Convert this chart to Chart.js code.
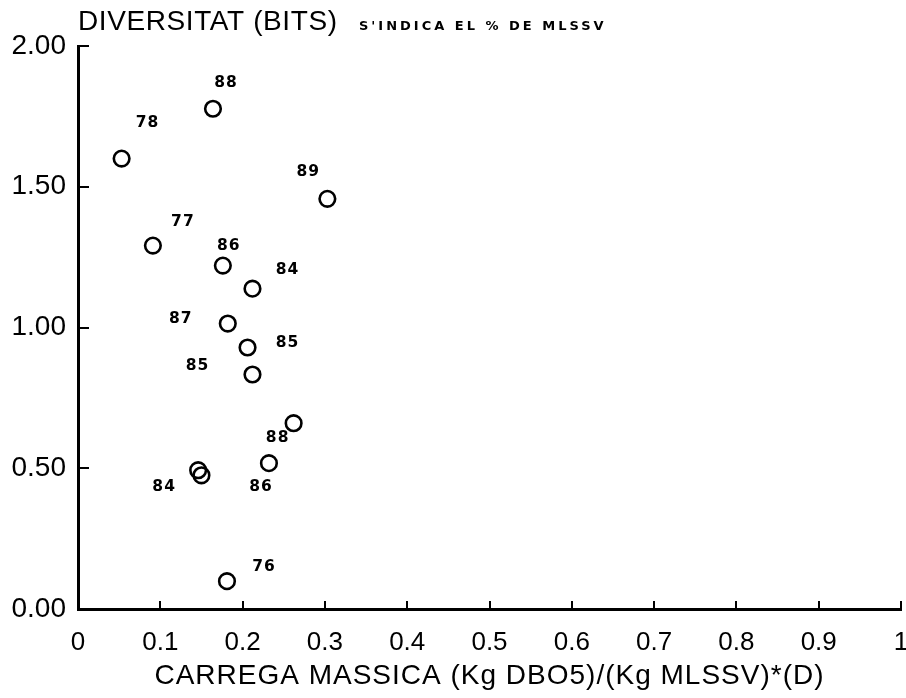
<!DOCTYPE html>
<html><head><meta charset="utf-8">
<script src="https://cdn.jsdelivr.net/npm/chart.js@4/dist/chart.umd.min.js"></script>
<style>html,body{margin:0;padding:0;background:#fff;}canvas{display:block;}</style>
</head><body>
<canvas id="c" width="906" height="698"></canvas>
<script>
// ---- data ----
const xValues = [0.053, 0.164, 0.303, 0.091, 0.176, 0.212, 0.182, 0.206, 0.212, 0.262, 0.232, 0.146, 0.150, 0.181];
const yValues = [1.600, 1.777, 1.457, 1.291, 1.220, 1.138, 1.014, 0.929, 0.833, 0.660, 0.518, 0.493, 0.475, 0.099];
const pointLabels = ['78', '88', '89', '77', '86', '84', '87', '85', '85', '88', '86', '84', '', '76'];
const xTicks = [0, 0.1, 0.2, 0.3, 0.4, 0.5, 0.6, 0.7, 0.8, 0.9, 1];
const yTicks = [0, 0.5, 1, 1.5, 2];
const yTitle = 'DIVERSITAT (BITS)';
const noteText = "S'INDICA EL % DE MLSSV";
const xTitle = 'CARREGA MASSICA (Kg DBO5)/(Kg MLSSV)*(D)';

// label placement relative to each circle (pixels)
const labelOffsets = [[26,-36],[13,-26],[-19,-27],[30,-24],[6,-20],[35,-19],[-47,-5],[40,-5],[-55,-9],[-16,15],[-8,24],[-34,17],[0,0],[37,-14]];

const points = xValues.map((x, i) => ({x, y: yValues[i]}));

const decorPlugin = {
  id: 'decor',
  afterDraw(chart) {
    const {ctx, chartArea, scales} = chart;
    const sx = scales.x, sy = scales.y;
    ctx.save();
    ctx.strokeStyle = '#000';
    ctx.lineWidth = 2;
    yTicks.forEach(v => {
      const py = Math.round(sy.getPixelForValue(v));
      ctx.beginPath(); ctx.moveTo(chartArea.left, py); ctx.lineTo(chartArea.left + 11, py); ctx.stroke();
    });
    xTicks.forEach(v => {
      if (v === 0) return;
      const px = Math.round(sx.getPixelForValue(v));
      ctx.beginPath(); ctx.moveTo(px, chartArea.bottom); ctx.lineTo(px, chartArea.bottom - 8); ctx.stroke();
    });
    // titles
    ctx.fillStyle = '#000';
    ctx.textBaseline = 'middle';
    ctx.textAlign = 'left';
    ctx.font = '28px "Liberation Sans", Arial, sans-serif';
    try { ctx.letterSpacing = '0.6px'; } catch (e) {}
    ctx.fillText(yTitle, 78, 22);
    ctx.textAlign = 'center';
    try { ctx.letterSpacing = '1px'; } catch (e) {}
    ctx.fillText(xTitle, (chartArea.left + chartArea.right) / 2, 676);
    ctx.textAlign = 'left';
    ctx.font = 'bold 13px "DejaVu Sans", sans-serif';
    try { ctx.letterSpacing = '3px'; } catch (e) {}
    ctx.fillText(noteText, 359, 27);
    // point labels
    ctx.font = 'bold 15.5px "DejaVu Sans", sans-serif';
    try { ctx.letterSpacing = '1px'; } catch (e) {}
    ctx.textAlign = 'center';
    const meta = chart.getDatasetMeta(0);
    meta.data.forEach((el, i) => {
      const t = pointLabels[i];
      if (!t) return;
      const off = labelOffsets[i];
      ctx.fillText(t, el.x + off[0], el.y + off[1]);
    });
    ctx.restore();
  }
};

Chart.defaults.color = '#000';
new Chart(document.getElementById('c'), {
  type: 'scatter',
  data: {
    datasets: [{
      data: points,
      pointStyle: 'circle',
      pointRadius: 7.8,
      pointBorderWidth: 2.6,
      pointBackgroundColor: 'rgba(0,0,0,0)',
      pointBorderColor: '#000',
      clip: false
    }]
  },
  options: {
    responsive: false,
    animation: false,
    events: [],
    layout: {autoPadding: false, padding: {top: 46, right: 5, bottom: 0, left: 0}},
    plugins: {legend: {display: false}, tooltip: {enabled: false}},
    scales: {
      x: {
        type: 'linear', min: 0, max: 1,
        afterBuildTicks: s => { s.ticks = xTicks.map(v => ({value: v})); },
        afterFit: s => { s.height = 89; s.paddingLeft = 0; s.paddingRight = 0; },
        grid: {display: false, drawTicks: false},
        border: {display: true, color: '#000', width: 3},
        ticks: {
          padding: 18, color: '#000',
          font: {family: '"Liberation Sans", Arial, sans-serif', size: 26},
          maxRotation: 0, autoSkip: false,
          callback: v => (v === 0 ? '0' : v === 1 ? '1' : Number(v).toFixed(1))
        },
        title: {display: false}
      },
      y: {
        type: 'linear', min: 0, max: 2,
        afterBuildTicks: s => { s.ticks = yTicks.map(v => ({value: v})); },
        afterFit: s => { s.width = 78; s.paddingTop = 0; s.paddingBottom = 0; },
        grid: {display: false, drawTicks: false},
        border: {display: true, color: '#000', width: 3},
        ticks: {
          padding: 12, color: '#000',
          font: {family: '"Liberation Sans", Arial, sans-serif', size: 28},
          autoSkip: false,
          callback: v => Number(v).toFixed(2)
        }
      }
    }
  },
  plugins: [decorPlugin]
});
</script>
</body></html>
